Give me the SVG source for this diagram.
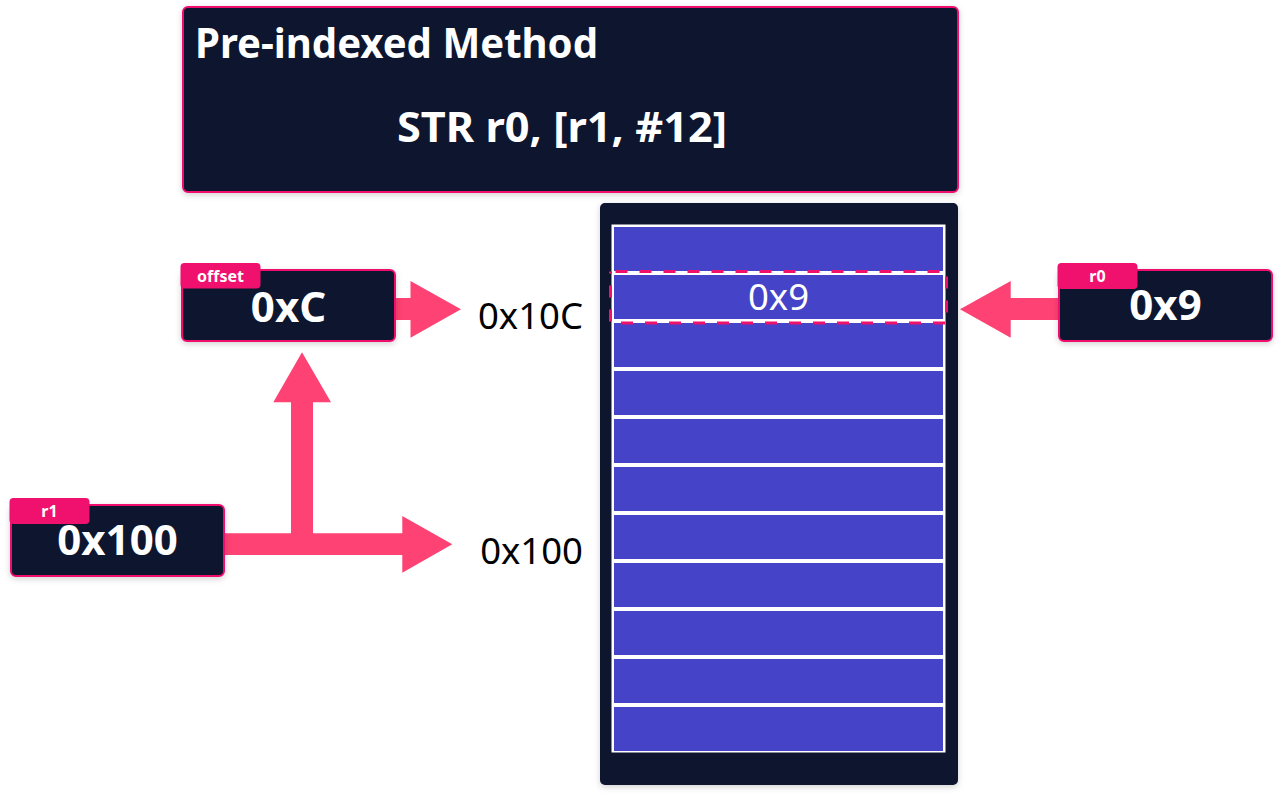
<svg xmlns="http://www.w3.org/2000/svg" width="1283" height="797" viewBox="0 0 1283 797">
  <defs>
    <filter id="sh" x="-10%" y="-10%" width="120%" height="130%">
      <feDropShadow dx="0" dy="2" stdDeviation="3" flood-color="#000" flood-opacity="0.18"/>
    </filter>
    <style>
      .box { fill: #10132F; stroke: #F0106E; stroke-width: 2; }
      .tab { fill: #F0106E; }
      .arrow { fill: #FE4273; }
      .cell { fill: #4544C9; }
      .tabtxt { font-family: "Noto Sans", "DejaVu Sans", sans-serif; font-weight: bold; font-size: 16px; fill: #FFFFFF; text-anchor: middle; }
      .val { font-family: "Noto Sans", "DejaVu Sans", sans-serif; font-weight: bold; font-size: 42px; fill: #FFFFFF; text-anchor: middle; }
      .addr { font-family: "Noto Sans", "DejaVu Sans", sans-serif; font-size: 36.5px; fill: #000000; text-anchor: end; }
      .title { font-family: "Noto Sans", "DejaVu Sans", sans-serif; font-weight: bold; font-size: 42px; fill: #FFFFFF; }
    </style>
  </defs>
  <rect width="1283" height="797" fill="#FFFFFF"/>

  <g id="header">
    <rect class="box" x="183" y="7" width="775" height="185" rx="5" filter="url(#sh)"/>
    <text class="title" x="195" y="58" textLength="403" lengthAdjust="spacingAndGlyphs">Pre-indexed Method</text>
    <text class="title" x="397" y="142" textLength="330" lengthAdjust="spacingAndGlyphs">STR r0, [r1, #12]</text>
  </g>

  <g id="connectors">
    <polygon class="arrow" points="396,298 410.5,298 410.5,281 461,309.3 410.5,337.7 410.5,320 396,320"/>
    <polygon class="arrow" points="225,533.3 402.3,533.3 402.3,516 452.3,544.3 402.3,572.7 402.3,555 225,555"/>
    <polygon class="arrow" points="291,544 291,402.3 273.3,402.3 302,352.3 331,402.3 313,402.3 313,544"/>
    <polygon class="arrow" points="1058,298 1010.7,298 1010.7,281 960,309.3 1010.7,337.7 1010.7,320 1058,320"/>
  </g>

  <g id="memory">
    <rect x="600" y="203" width="358" height="582" rx="5" fill="#10132F" filter="url(#sh)"/>
    <rect x="611.5" y="224.5" width="334" height="528" fill="#FFFFFF"/>
    <rect class="cell" x="614" y="227" width="329" height="44"/>
    <rect class="cell" x="614" y="275" width="329" height="44"/>
    <rect class="cell" x="614" y="323" width="329" height="44"/>
    <rect class="cell" x="614" y="371" width="329" height="44"/>
    <rect class="cell" x="614" y="419" width="329" height="44"/>
    <rect class="cell" x="614" y="467" width="329" height="44"/>
    <rect class="cell" x="614" y="515" width="329" height="44"/>
    <rect class="cell" x="614" y="563" width="329" height="44"/>
    <rect class="cell" x="614" y="611" width="329" height="44"/>
    <rect class="cell" x="614" y="659" width="329" height="44"/>
    <rect class="cell" x="614" y="707" width="329" height="44"/>
    <text x="778.5" y="309.5" font-family="'Noto Sans', 'DejaVu Sans', sans-serif" font-size="36.5" fill="#FFFFFF" text-anchor="middle">0x9</text>
    <rect x="610.5" y="271.5" width="336" height="51.5" fill="none" stroke="#F0106E" stroke-width="3" stroke-dasharray="12 12" stroke-dashoffset="-5"/>
  </g>

  <g id="addr-10C">
    <text class="addr" x="583" y="329">0x10C</text>
  </g>
  <g id="addr-100">
    <text class="addr" x="583" y="564">0x100</text>
  </g>

  <g id="offset">
    <rect class="box" x="182" y="270" width="213" height="71" rx="5" filter="url(#sh)"/>
    <rect class="tab" x="180.5" y="263" width="80" height="25.5" rx="4"/>
    <text class="tabtxt" x="220.5" y="281.5">offset</text>
    <text class="val" x="288.5" y="321.5">0xC</text>
  </g>

  <g id="r1">
    <rect class="box" x="11" y="505" width="213" height="71" rx="5" filter="url(#sh)"/>
    <rect class="tab" x="9.5" y="498" width="80" height="26" rx="4"/>
    <text class="tabtxt" x="49.5" y="517">r1</text>
    <text class="val" x="117.5" y="555">0x100</text>
  </g>

  <g id="r0">
    <rect class="box" x="1059" y="270" width="213" height="71" rx="5" filter="url(#sh)"/>
    <rect class="tab" x="1057.5" y="263" width="80" height="26" rx="4"/>
    <text class="tabtxt" x="1097.5" y="282">r0</text>
    <text class="val" x="1165.5" y="320">0x9</text>
  </g>
</svg>
